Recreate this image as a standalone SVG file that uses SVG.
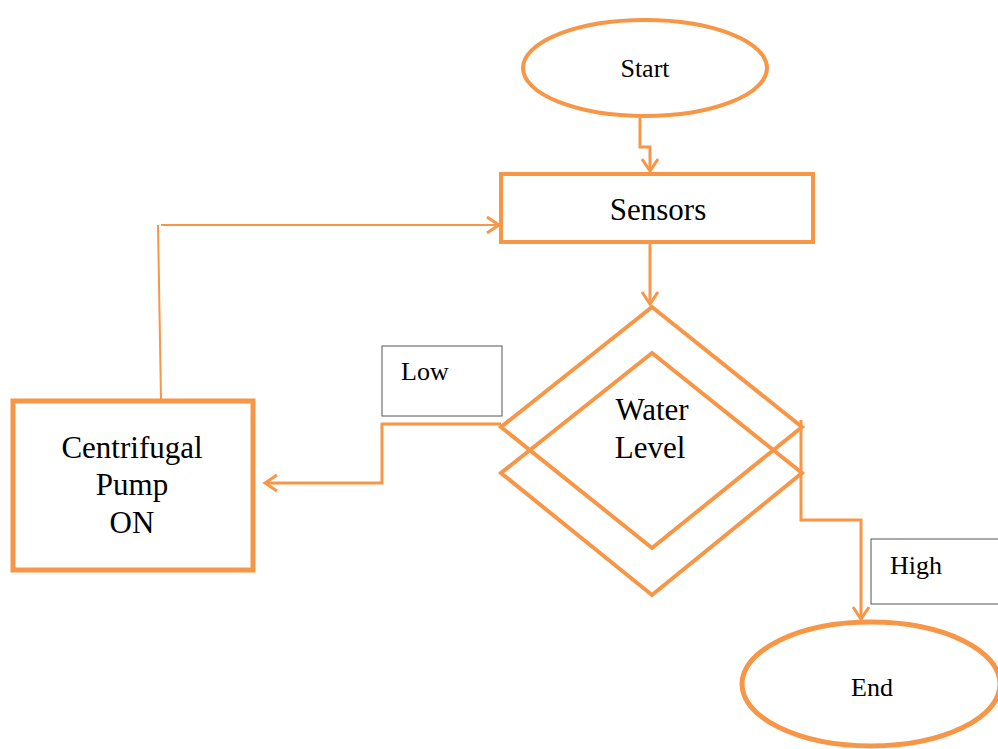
<svg xmlns="http://www.w3.org/2000/svg" width="998" height="749" viewBox="0 0 998 749">
<style>
.sh{fill:#fff;stroke:#F79646}
.ln{fill:none;stroke:#F79646;stroke-linejoin:miter}
.lb{fill:#fff;stroke:#555;stroke-width:1}
.t{font-family:'Liberation Serif',serif;fill:#000}
.big{font-size:31px}
.sm{font-size:26px}
</style>
<defs>
<marker id="ah" markerWidth="14" markerHeight="16" refX="12" refY="8" orient="auto" markerUnits="userSpaceOnUse" overflow="visible">
<path d="M0,0 L12,8 L0,16" fill="none" stroke="#F79646" stroke-width="3"/>
</marker>
</defs>
<rect width="998" height="749" fill="#fff"/>
<g id="connectors">
<path class="ln" stroke-width="3" d="M640,118 V147 H650 V171" marker-end="url(#ah)"/>
<path class="ln" stroke-width="3" d="M650,243 V304" marker-end="url(#ah)"/>
<path class="ln" stroke-width="3" d="M501,424 H382 V483 H265" marker-end="url(#ah)"/>
<path class="ln" stroke-width="2" d="M161,400 L158,225"/>
<path class="ln" stroke-width="2" d="M161,225 H499" marker-end="url(#ah)"/>
<path class="ln" stroke-width="3" d="M801,420 V520 H861 V619" marker-end="url(#ah)"/>
</g>
<g id="start">
<ellipse class="sh" stroke-width="4" cx="645" cy="68" rx="122" ry="48"/>
<text class="t sm" x="645" y="77" text-anchor="middle">Start</text>
</g>
<g id="sensors">
<rect class="sh" stroke-width="4" x="501" y="174" width="312" height="68"/>
<text class="t big" x="658" y="220" text-anchor="middle">Sensors</text>
</g>
<g id="decision">
<polygon class="ln" stroke-width="4" points="652,307 802,427 652,548 501,427"/>
<polygon class="ln" stroke-width="4" points="652,353 802,473 652,595 501,473"/>
<text class="t big" x="652" y="420" text-anchor="middle">Water</text>
<text class="t big" x="650" y="458" text-anchor="middle">Level</text>
</g>
<g id="low-label">
<rect class="lb" x="382" y="346" width="120" height="70"/>
<text class="t sm" x="401" y="380">Low</text>
</g>
<g id="pump">
<rect class="sh" stroke-width="5" x="13" y="401" width="240" height="169"/>
<text class="t big" x="132" y="458" text-anchor="middle">Centrifugal</text>
<text class="t big" x="132" y="495" text-anchor="middle">Pump</text>
<text class="t big" x="132" y="533" text-anchor="middle">ON</text>
</g>
<g id="high-label">
<rect class="lb" x="871" y="539" width="140" height="65"/>
<text class="t sm" x="890" y="574">High</text>
</g>
<g id="end">
<ellipse class="sh" stroke-width="5" cx="871" cy="684" rx="129" ry="62"/>
<text class="t sm" x="872" y="696" text-anchor="middle">End</text>
</g>
</svg>
